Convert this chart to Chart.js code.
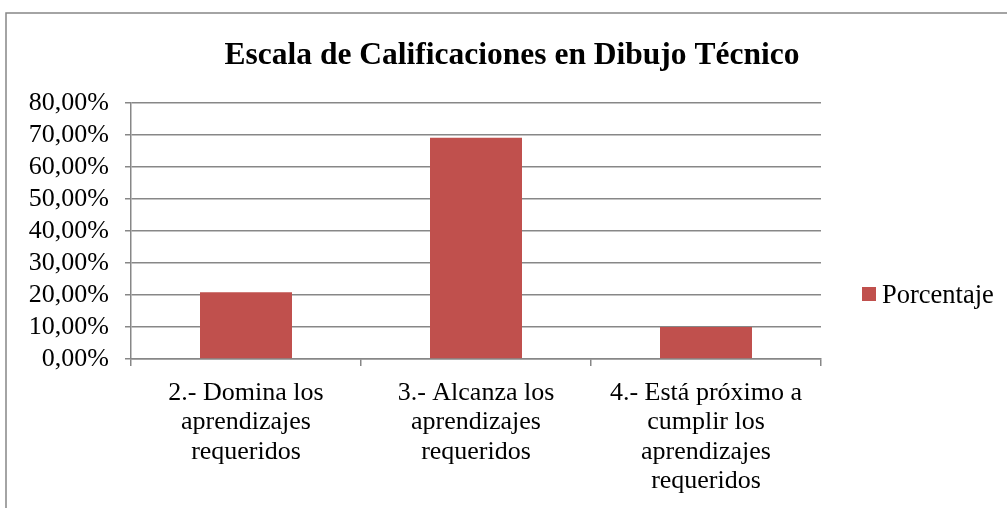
<!DOCTYPE html>
<html>
<head>
<meta charset="utf-8">
<script src="https://cdn.jsdelivr.net/npm/chart.js@4/dist/chart.umd.min.js"></script>
<style>
  html, body { margin: 0; padding: 0; background: #fff; }
  #wrap { width: 1007px; height: 508px; }
</style>
</head>
<body>
<div id="wrap"><canvas id="gradesChart"></canvas></div>
<script>
// Escala de calificaciones - Dibujo Técnico
const chartTitle = 'Escala de Calificaciones en Dibujo Técnico';
const seriesName = 'Porcentaje';
const categories = [
  ['2.- Domina los', 'aprendizajes', 'requeridos'],
  ['3.- Alcanza los', 'aprendizajes', 'requeridos'],
  ['4.- Está próximo a', 'cumplir los', 'aprendizajes', 'requeridos']
];
const porcentaje = [20.83, 69.17, 10.00];
const yMin = 0;
const yMax = 80;
const yStep = 10;

const serif = '"Liberation Serif", "Times New Roman", serif';
const barColor = '#C0504D';
const lineColor = '#878787';

// border, title and legend drawn the way the spreadsheet export lays them out
const decor = {
  id: 'decor',
  beforeDraw(chart) {
    const ctx = chart.ctx;
    ctx.save();
    ctx.strokeStyle = lineColor;
    ctx.lineWidth = 1.5;
    ctx.strokeRect(6, 13, 1100, 700);
    ctx.restore();
  },
  afterDraw(chart) {
    const ctx = chart.ctx;
    const area = chart.chartArea;
    ctx.save();
    ctx.fillStyle = '#000';
    ctx.font = 'bold 31.5px ' + serif;
    ctx.textAlign = 'center';
    ctx.textBaseline = 'alphabetic';
    ctx.fillText(chartTitle, 512, 64);

    // legend
    const lx = area.right + 41;
    const ly = 294;
    ctx.fillStyle = barColor;
    ctx.fillRect(lx, ly - 7, 14, 14);
    ctx.fillStyle = '#000';
    ctx.font = '26.5px ' + serif;
    ctx.textAlign = 'left';
    ctx.fillText(seriesName, lx + 20, ly + 9);
    ctx.restore();
  }
};

new Chart(document.getElementById('gradesChart').getContext('2d'), {
  type: 'bar',
  data: {
    labels: categories,
    datasets: [{
      label: seriesName,
      data: porcentaje,
      backgroundColor: barColor,
      borderWidth: 0,
      categoryPercentage: 1,
      barPercentage: 0.4
    }]
  },
  options: {
    responsive: true,
    maintainAspectRatio: false,
    animation: false,
    layout: { padding: { top: 103, right: 186, left: 0, bottom: 0 } },
    plugins: {
      legend: { display: false },
      title: { display: false },
      tooltip: { enabled: false }
    },
    scales: {
      x: {
        offset: true,
        grid: {
          offset: true,
          drawOnChartArea: false,
          color: lineColor,
          lineWidth: 1.5,
          tickLength: 7
        },
        border: { color: lineColor, width: 1.5 },
        ticks: {
          color: '#000',
          font: { family: serif, size: 26, lineHeight: '29.5px' },
          padding: 12,
          maxRotation: 0,
          autoSkip: false
        },
        afterFit(scale) { scale.height = 508 - 359; }
      },
      y: {
        min: yMin,
        max: yMax,
        grid: {
          color: lineColor,
          lineWidth: 1.5,
          tickLength: 6
        },
        border: { color: lineColor, width: 1.5 },
        ticks: {
          stepSize: yStep,
          autoSkip: false,
          color: '#000',
          padding: 16,
          font: { family: serif, size: 26, lineHeight: 1 },
          callback: v => v.toFixed(2).replace('.', ',') + '%'
        },
        afterFit(scale) { scale.width = 131; }
      }
    }
  },
  plugins: [decor]
});
</script>
</body>
</html>
